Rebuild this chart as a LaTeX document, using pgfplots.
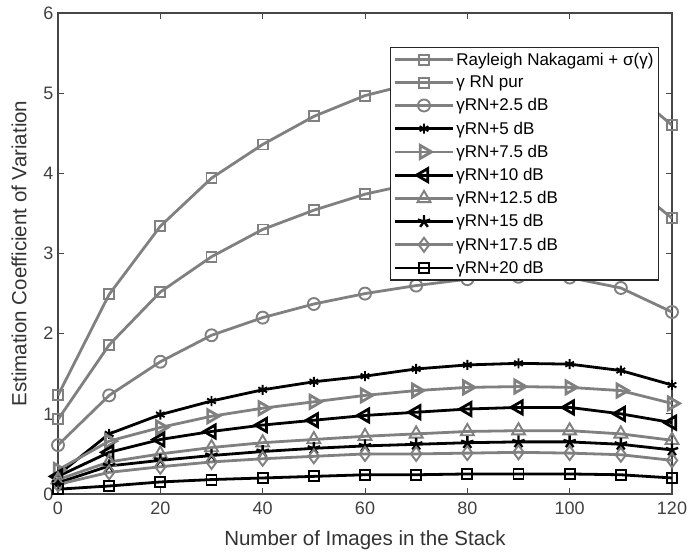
\documentclass[border=0pt]{standalone}
\usepackage{pgfplots}
\pgfplotsset{compat=1.18}
\usepackage{fontspec}
\setmainfont{Liberation Sans}

\definecolor{mgray}{RGB}{128,128,128}
\definecolor{axgray}{RGB}{70,70,70}

\pgfplotsset{
    ser/.style={line width=2.8pt, mark options={solid, line width=1.9pt}},
}

\begin{document}
\begin{tikzpicture}
\begin{axis}[
    name=ax,
    scale only axis,
    width=614pt, height=481pt,
    xmin=0, xmax=120, ymin=0, ymax=6,
    xtick={0,20,...,120}, ytick={0,1,...,6},
    axis line style={axgray, line width=1.2pt},
    tick style={axgray, line width=1pt},
    major tick length=6pt,
    tick align=inside,
    /pgf/number format/assume math mode=true,
    ticklabel style={font=\fontsize{18}{20}\selectfont, text=black!75},
    xticklabel style={yshift=-4pt},
    yticklabel style={xshift=-1pt},
    xlabel={Number of Images in the Stack},
    ylabel={Estimation Coefficient of Variation},
    label style={font=\fontsize{20.5}{23}\selectfont, text=black!80},
    xlabel style={yshift=-9pt},
    ylabel style={yshift=10pt},
    legend style={
        at={(0.979,0.929)}, anchor=north east,
        draw=black!85, line width=1.2pt,
        font=\fontsize{17}{20}\selectfont,
        cells={anchor=west},
        row sep=5.4pt,
        inner xsep=3pt, inner ysep=3pt,
    },
    legend image code/.code={
        \draw[mark repeat=2, mark phase=2] plot coordinates {(0pt,0pt) (29pt,0pt) (58pt,0pt)};
    },
]

\addplot[ser, mgray, mark=square, mark size=5pt] coordinates {
(0,1.23)(10,2.49)(20,3.34)(30,3.94)(40,4.36)(50,4.71)(60,4.97)(70,5.13)(80,5.24)(90,5.30)(100,5.28)(110,5.14)(120,4.60)};
\addlegendentry{Rayleigh Nakagami + σ(γ)}

\addplot[ser, mgray, mark=square, mark size=5pt] coordinates {
(0,0.93)(10,1.86)(20,2.52)(30,2.96)(40,3.30)(50,3.54)(60,3.74)(70,3.88)(80,3.97)(90,4.02)(100,4.02)(110,3.96)(120,3.44)};
\addlegendentry{γ RN pur}

\addplot[ser, mgray, mark=o, mark size=6pt] coordinates {
(0,0.61)(10,1.23)(20,1.65)(30,1.98)(40,2.20)(50,2.37)(60,2.50)(70,2.60)(80,2.68)(90,2.71)(100,2.70)(110,2.57)(120,2.27)};
\addlegendentry{γRN+2.5 dB}

\addplot[ser, black, mark=asterisk, mark size=5pt] coordinates {
(0,0.24)(10,0.75)(20,0.99)(30,1.16)(40,1.30)(50,1.40)(60,1.47)(70,1.56)(80,1.61)(90,1.63)(100,1.62)(110,1.54)(120,1.36)};
\addlegendentry{γRN+5 dB}

\addplot[ser, mgray, mark=triangle, mark size=7.5pt, mark options={rotate=-90}] coordinates {
(0,0.30)(10,0.66)(20,0.83)(30,0.97)(40,1.07)(50,1.15)(60,1.23)(70,1.29)(80,1.33)(90,1.34)(100,1.33)(110,1.29)(120,1.13)};
\addlegendentry{γRN+7.5 dB}

\addplot[ser, black, mark=triangle, mark size=7.5pt, mark options={rotate=90}] coordinates {
(0,0.22)(10,0.52)(20,0.68)(30,0.78)(40,0.86)(50,0.92)(60,0.98)(70,1.02)(80,1.06)(90,1.08)(100,1.08)(110,1.00)(120,0.89)};
\addlegendentry{γRN+10 dB}

\addplot[ser, mgray, mark=triangle, mark size=7.5pt] coordinates {
(0,0.18)(10,0.40)(20,0.50)(30,0.58)(40,0.64)(50,0.68)(60,0.72)(70,0.75)(80,0.78)(90,0.79)(100,0.79)(110,0.75)(120,0.67)};
\addlegendentry{γRN+12.5 dB}

\addplot[ser, black, mark=star, mark size=6.5pt, mark options={line width=2.4pt}] coordinates {
(0,0.14)(10,0.35)(20,0.42)(30,0.48)(40,0.53)(50,0.57)(60,0.60)(70,0.62)(80,0.64)(90,0.65)(100,0.65)(110,0.62)(120,0.55)};
\addlegendentry{γRN+15 dB}

\addplot[ser, mgray, mark=diamond, mark size=7pt] coordinates {
(0,0.12)(10,0.27)(20,0.34)(30,0.40)(40,0.44)(50,0.47)(60,0.50)(70,0.50)(80,0.51)(90,0.52)(100,0.51)(110,0.49)(120,0.42)};
\addlegendentry{γRN+17.5 dB}

\addplot[ser, black, mark=square, mark size=5pt] coordinates {
(0,0.06)(10,0.10)(20,0.15)(30,0.18)(40,0.20)(50,0.22)(60,0.24)(70,0.24)(80,0.25)(90,0.25)(100,0.25)(110,0.24)(120,0.20)};
\addlegendentry{γRN+20 dB}

\end{axis}
\pgfresetboundingbox
\path ([shift={(-58pt,-64pt)}]ax.south west) rectangle ([shift={(16pt,13pt)}]ax.north east);
\end{tikzpicture}
\end{document}
